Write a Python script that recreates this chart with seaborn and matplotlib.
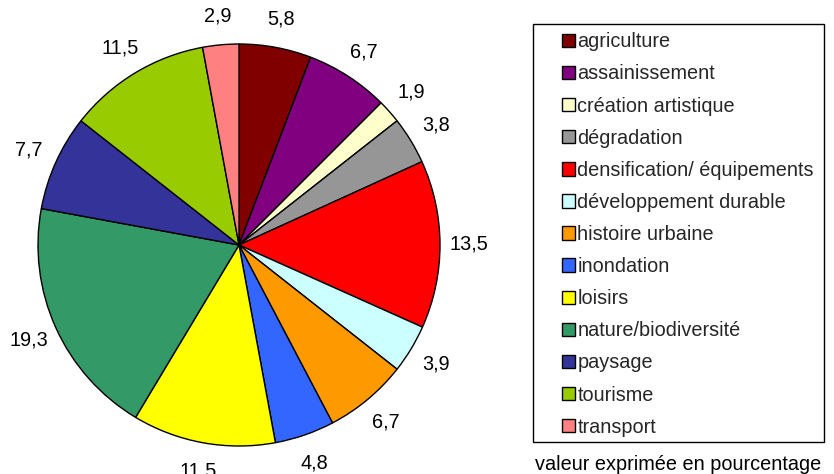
import matplotlib
matplotlib.use("Agg")
import matplotlib.pyplot as plt
from matplotlib.patches import Rectangle
import seaborn as sns

# Share of each theme (percent)
categories = [
    "agriculture", "assainissement", "création artistique", "dégradation",
    "densification/ équipements", "développement durable", "histoire urbaine",
    "inondation", "loisirs", "nature/biodiversité", "paysage", "tourisme",
    "transport",
]
values = [5.8, 6.7, 1.9, 3.8, 13.5, 3.9, 6.7, 4.8, 11.5, 19.3, 7.7, 11.5, 2.9]
colors = [
    "#800000", "#800080", "#FFFFCC", "#969696", "#FF0000", "#CCFFFF",
    "#FF9900", "#3366FF", "#FFFF00", "#339966", "#333399", "#99CC00",
    "#FF8080",
]

sns.set_theme(style="white")
plt.rcParams["font.family"] = ["Liberation Sans", "DejaVu Sans"]

W, H = 834, 474
FS = 14.3
fig = plt.figure(figsize=(W / 100, H / 100), dpi=100)
fig.patch.set_facecolor("white")

# Pie: centre (239, 245) px, radius 201 px
cx, cy, r = 239, 245, 201
ax = fig.add_axes([(cx - r) / W, (H - cy - r) / H, 2 * r / W, 2 * r / H])

palette = sns.color_palette(colors)
value_labels = [f"{v:.1f}".replace(".", ",") for v in values]

wedges, texts = ax.pie(
    values,
    labels=value_labels,
    colors=palette,
    startangle=90,
    counterclock=False,
    labeldistance=1.145,
    radius=1,
    wedgeprops=dict(edgecolor="black", linewidth=1.0),
    textprops=dict(fontsize=FS, color="black"),
)
for t in texts:
    t.set_ha("center")
    t.set_va("center")
ax.set_xlim(-1, 1)
ax.set_ylim(-1, 1)
ax.set_axis_off()

# Legend box outline
fig.patches.append(Rectangle((533 / W, 1 - 442 / H), (824 - 533) / W, (442 - 24) / H,
                             transform=fig.transFigure, fill=False,
                             edgecolor="black", linewidth=1.0))

leg = fig.legend(
    wedges, categories,
    loc="center left",
    bbox_to_anchor=(562 / W, 1 - 234.5 / H),
    bbox_transform=fig.transFigure,
    frameon=False,
    fontsize=FS,
    handlelength=0.66,
    handleheight=0.66,
    handletextpad=0.12,
    labelspacing=0.66,
    borderpad=0,
    borderaxespad=0,
)
for h in leg.legend_handles:
    h.set_edgecolor("black")
    h.set_linewidth(1.0)

fig.text(678 / W, 1 - 465 / H, "valeur exprimée en pourcentage",
         ha="center", va="center", fontsize=FS, color="black")

fig.savefig("out.png", dpi=100, facecolor="white")
